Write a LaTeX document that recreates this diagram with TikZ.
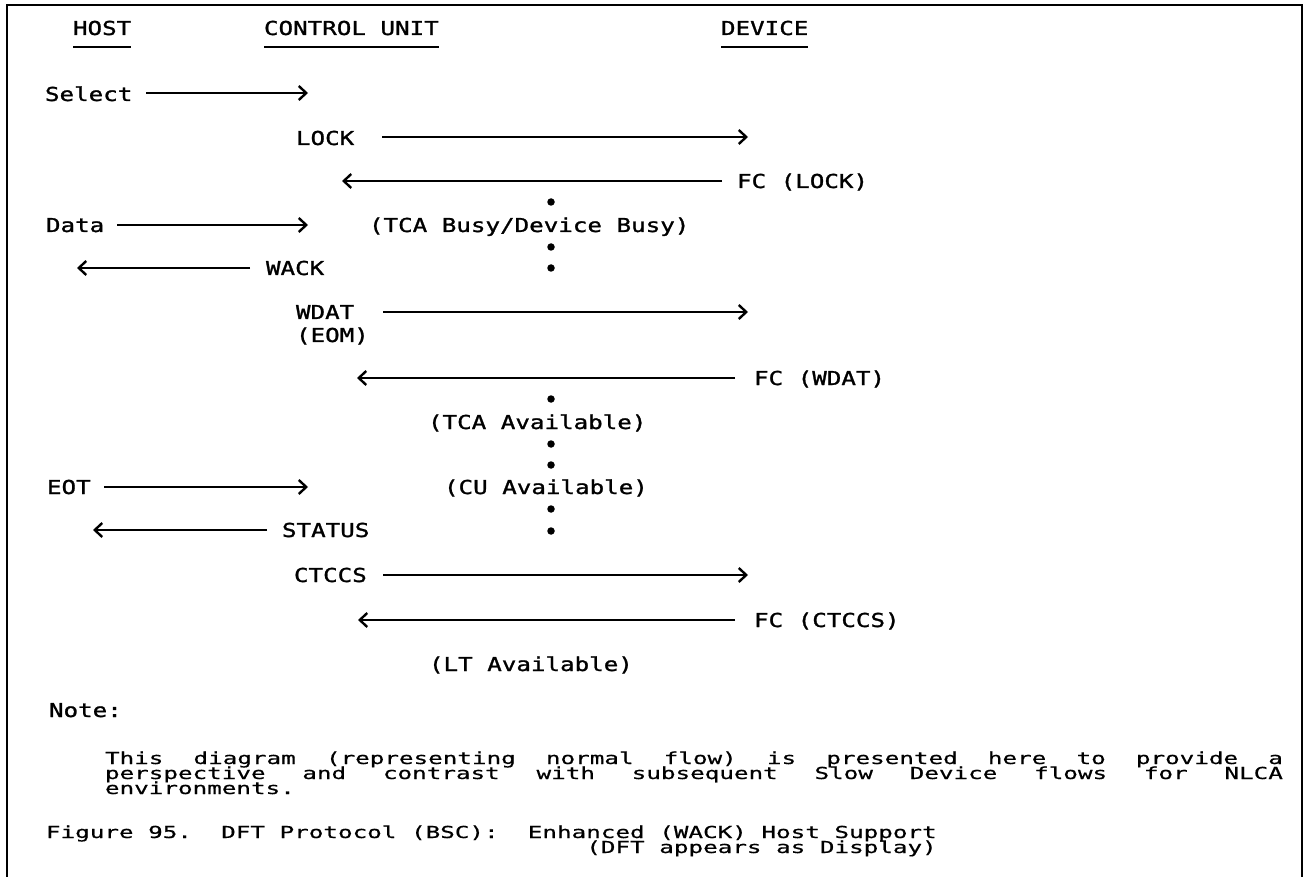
\documentclass[tikz,border=0pt]{standalone}
\usepackage{fontspec}
\newfontfamily\dmono[FakeStretch=1.26,FakeBold=1.3]{DejaVu Sans Mono}
\newfontfamily\nmono[FakeStretch=1.47,FakeBold=0.6]{DejaVu Sans Mono}
\usetikzlibrary{arrows.meta,calc}
\begin{document}
\begin{tikzpicture}[x=1pt,y=-1pt,
  lbl/.style={anchor=base west, inner sep=0pt, outer sep=0pt, font=\dmono\fontsize{19.2}{20}\selectfont},
  sm/.style={anchor=base west, inner sep=0pt, outer sep=0pt, font=\nmono\fontsize{16.5}{16.5}\selectfont},
  msg/.style={line width=2pt, -{Straight Barb[length=7.5pt,width=14pt,line width=2.4pt]}},
  uline/.style={line width=2.2pt},
  dot/.style={circle, fill=black, inner sep=0pt, minimum size=7.5pt},
  frame/.style={line width=1.6pt}]
\useasboundingbox (0,0) rectangle (1307,877);
% frame
\coordinate (fbl) at (7,877); \coordinate (ftl) at (7,5);
\coordinate (ftr) at (1302,5); \coordinate (fbr) at (1302,877);
\draw[frame] (fbl) -- (ftl) -- (ftr) -- (fbr);
% headers
\node[lbl] (host) at (73,35) {HOST};
\node[lbl] (cu) at (264,35) {CONTROL UNIT};
\node[lbl] (dev) at (721,35) {DEVICE};
\foreach \n in {host,cu,dev}{
  \draw[uline] ($(\n.base west)+(0,12)$) -- ($(\n.base east)+(0,12)$);
}
% Select
\node[lbl] (select) at (45,101) {Select};
\coordinate (selA) at (146,93); \coordinate (selB) at (308,93);
\draw[msg] (selA) -- (selB);
% LOCK
\node[lbl] (lock) at (296,145) {LOCK};
\coordinate (lockA) at (382,137); \coordinate (lockB) at (748,137);
\draw[msg] (lockA) -- (lockB);
% FC (LOCK)
\node[lbl] (fclock) at (737,188) {FC (LOCK)};
\coordinate (fclA) at (722,181); \coordinate (fclB) at (342,181);
\draw[msg] (fclA) -- (fclB);
\node[dot] (d1) at (551,202) {};
% Data
\node[lbl] (data) at (46,232) {Data};
\coordinate (dataA) at (117,225); \coordinate (dataB) at (308,225);
\draw[msg] (dataA) -- (dataB);
\node[lbl] (busy) at (369,232) {(TCA Busy/Device Busy)};
\node[dot] (d2) at (551,247) {};
\node[dot] (d3) at (551,268) {};
% WACK
\node[lbl] (wack) at (266,275) {WACK};
\coordinate (wackA) at (250,268); \coordinate (wackB) at (77,268);
\draw[msg] (wackA) -- (wackB);
% WDAT
\node[lbl] (wdat) at (296,319) {WDAT};
\node[lbl] (eom) at (296,342) {(EOM)};
\coordinate (wdatA) at (383,312); \coordinate (wdatB) at (748,312);
\draw[msg] (wdatA) -- (wdatB);
% FC (WDAT)
\node[lbl] (fcwdat) at (754,385) {FC (WDAT)};
\coordinate (fcwA) at (735,378); \coordinate (fcwB) at (357,378);
\draw[msg] (fcwA) -- (fcwB);
\node[dot] (d4) at (551,399) {};
\node[lbl] (tcaav) at (428,429) {(TCA Available)};
\node[dot] (d5) at (551,444) {};
\node[dot] (d6) at (551,465) {};
% EOT
\node[lbl] (eot) at (47,494) {EOT};
\coordinate (eotA) at (104,487); \coordinate (eotB) at (308,487);
\draw[msg] (eotA) -- (eotB);
\node[lbl] (cuav) at (444,494) {(CU Available)};
\node[dot] (d7) at (551,509) {};
\node[dot] (d8) at (551,531) {};
% STATUS
\node[lbl] (status) at (282,537) {STATUS};
\coordinate (stA) at (267,530); \coordinate (stB) at (93,530);
\draw[msg] (stA) -- (stB);
% CTCCS
\node[lbl] (ctccs) at (294,582) {CTCCS};
\coordinate (ctA) at (383,575); \coordinate (ctB) at (748,575);
\draw[msg] (ctA) -- (ctB);
% FC (CTCCS)
\node[lbl] (fcct) at (754,627) {FC (CTCCS)};
\coordinate (fccA) at (735,620); \coordinate (fccB) at (358,620);
\draw[msg] (fccA) -- (fccB);
\node[lbl] (ltav) at (429,671) {(LT Available)};
% Note
\node[lbl] (note) at (49,717) {Note:};
\node[sm] (n1) at (105,764) {\hbox to 1178pt{This\hfill diagram\hfill (representing\hfill normal\hfill flow)\hfill is\hfill presented\hfill here\hfill to\hfill provide\hfill a}};
\node[sm] (n2) at (105,779) {\hbox to 1178pt{perspective\hfill and\hfill contrast\hfill with\hfill subsequent\hfill Slow\hfill Device\hfill flows\hfill for\hfill NLCA}};
\node[sm] (n3) at (105,794) {environments.};
% Caption
\node[sm] (cap1) at (46,838) {Figure 95.\ \ DFT Protocol (BSC):\ \ Enhanced (WACK) Host Support};
\node[sm, anchor=base east] (cap2) at ($(cap1.base east)+(0,15)$) {(DFT appears as Display)};
\end{tikzpicture}
\end{document}
